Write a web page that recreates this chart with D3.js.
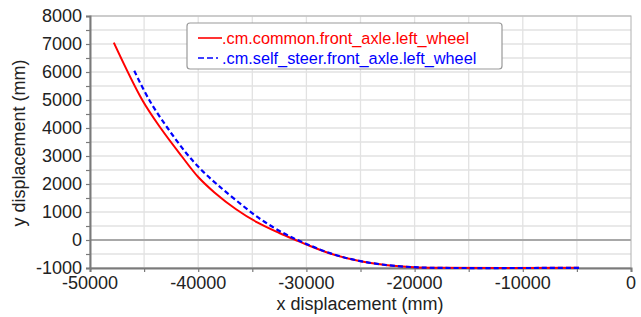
<!DOCTYPE html>
<html>
<head>
<meta charset="utf-8">
<script src="https://cdn.jsdelivr.net/npm/d3@7"></script>
<style>
  body { margin: 0; background: #fff; }
  svg text { font-family: "Liberation Sans", Arial, sans-serif; fill: #222; }
</style>
</head>
<body>
<svg id="canvas" width="641" height="317"></svg>
<script>
// series (mm)
const commonX = [-47800, -45170, -43475, -41540, -40000, -38500, -36500, -34500, -32500, -31000, -30000, -27500, -25000, -22500, -20000, -18000, -4800];
const commonY = [7050, 5000, 4000, 3000, 2250, 1700, 1100, 620, 250, 0, -160, -520, -760, -905, -975, -995, -995];
const steerX = [-45910, -44525, -42830, -41100, -39700, -38300, -36500, -34300, -32000, -30000, -27500, -25000, -22500, -20000, -18000, -4800];
const steerY = [6045, 5000, 4000, 3100, 2500, 2000, 1420, 760, 220, -140, -510, -755, -900, -972, -995, -995];

const seriesNames = [".cm.common.front_axle.left_wheel", ".cm.self_steer.front_axle.left_wheel"];
const xTicks = [-50000, -40000, -30000, -20000, -10000, 0];
const yTicks = [-1000, 0, 1000, 2000, 3000, 4000, 5000, 6000, 7000, 8000];

const svg = d3.select("#canvas");
const pLeft = 90, pRight = 631, pTop = 16, pBottom = 268;

const x = d3.scaleLinear().domain([-50000, 0]).range([pLeft, pRight]);
const y = d3.scaleLinear().domain([-1000, 8000]).range([pBottom, pTop]);

// grid
svg.append("g")
  .selectAll("line")
  .data(d3.range(-1000, 8001, 500))
  .enter()
  .append("line")
  .attr("x1", pLeft).attr("x2", pRight)
  .attr("y1", d => y(d)).attr("y2", d => y(d))
  .attr("stroke", "#e2e2e2").attr("stroke-width", 1.3);

svg.append("g")
  .selectAll("line")
  .data(d3.range(-45000, 0, 5000))
  .enter()
  .append("line")
  .attr("x1", d => x(d)).attr("x2", d => x(d))
  .attr("y1", pTop).attr("y2", pBottom)
  .attr("stroke", "#e2e2e2").attr("stroke-width", 1.3);

// zero line
svg.append("line")
  .attr("x1", pLeft).attr("x2", pRight)
  .attr("y1", y(0)).attr("y2", y(0))
  .attr("stroke", "#a8a8a8").attr("stroke-width", 2);

// frame
svg.append("rect")
  .attr("x", pLeft).attr("y", pTop)
  .attr("width", pRight - pLeft).attr("height", pBottom - pTop)
  .attr("fill", "none").attr("stroke", "#b0b0b0").attr("stroke-width", 1);

// axes
const yAxis = d3.axisLeft(y).tickValues(d3.range(-1000, 8001, 500)).tickSize(4).tickFormat("");
const xAxis = d3.axisBottom(x).tickValues(d3.range(-50000, 1, 5000)).tickSize(4).tickFormat("");

const gy = svg.append("g").attr("transform", `translate(${pLeft},0)`).call(yAxis);
const gx = svg.append("g").attr("transform", `translate(0,${pBottom})`).call(xAxis);
[gy, gx].forEach(g => {
  g.select(".domain").attr("stroke", "#7a7a7a").attr("stroke-width", 2);
  g.selectAll(".tick line").attr("stroke", "#7a7a7a").attr("stroke-width", 1.2);
});

svg.append("g")
  .selectAll("text")
  .data(yTicks)
  .enter()
  .append("text")
  .attr("x", pLeft - 8)
  .attr("y", d => y(d))
  .attr("dy", "0.36em")
  .attr("text-anchor", "end")
  .attr("font-size", 18)
  .text(d => d);

svg.append("g")
  .selectAll("text")
  .data(xTicks)
  .enter()
  .append("text")
  .attr("x", d => x(d))
  .attr("y", pBottom + 21)
  .attr("text-anchor", "middle")
  .attr("font-size", 18)
  .text(d => d);

svg.append("text")
  .attr("x", 360).attr("y", 310)
  .attr("text-anchor", "middle")
  .attr("font-size", 18)
  .text("x displacement (mm)");

svg.append("text")
  .attr("transform", "translate(25,143) rotate(-90)")
  .attr("text-anchor", "middle")
  .attr("font-size", 18)
  .text("y displacement (mm)");

// curves
const line = d3.line().x(d => x(d[0])).y(d => y(d[1])).curve(d3.curveCatmullRom.alpha(0.5));

svg.append("path")
  .datum(d3.zip(commonX, commonY))
  .attr("d", line)
  .attr("fill", "none")
  .attr("stroke", "#ff0000")
  .attr("stroke-width", 2);

svg.append("path")
  .datum(d3.zip(steerX, steerY))
  .attr("d", line)
  .attr("fill", "none")
  .attr("stroke", "#0000ff")
  .attr("stroke-width", 2.2)
  .attr("stroke-dasharray", "5,3");

// legend
const lg = svg.append("g");
lg.append("rect")
  .attr("x", 187).attr("y", 23)
  .attr("width", 315).attr("height", 46)
  .attr("rx", 3)
  .attr("fill", "#fff")
  .attr("stroke", "#9a9a9a")
  .attr("stroke-width", 1.2);

const colors = ["#ff0000", "#0000ff"];
seriesNames.forEach((name, i) => {
  const cy = 38 + i * 20;
  lg.append("line")
    .attr("x1", 198).attr("x2", 222)
    .attr("y1", cy).attr("y2", cy)
    .attr("stroke", colors[i])
    .attr("stroke-width", 1.6)
    .attr("stroke-dasharray", i ? "6,3,6,3,2" : null);
  lg.append("text")
    .attr("x", 222).attr("y", cy)
    .attr("dy", "0.36em")
    .attr("font-size", 16.3)
    .style("fill", colors[i])
    .text(name);
});
</script>
</body>
</html>
